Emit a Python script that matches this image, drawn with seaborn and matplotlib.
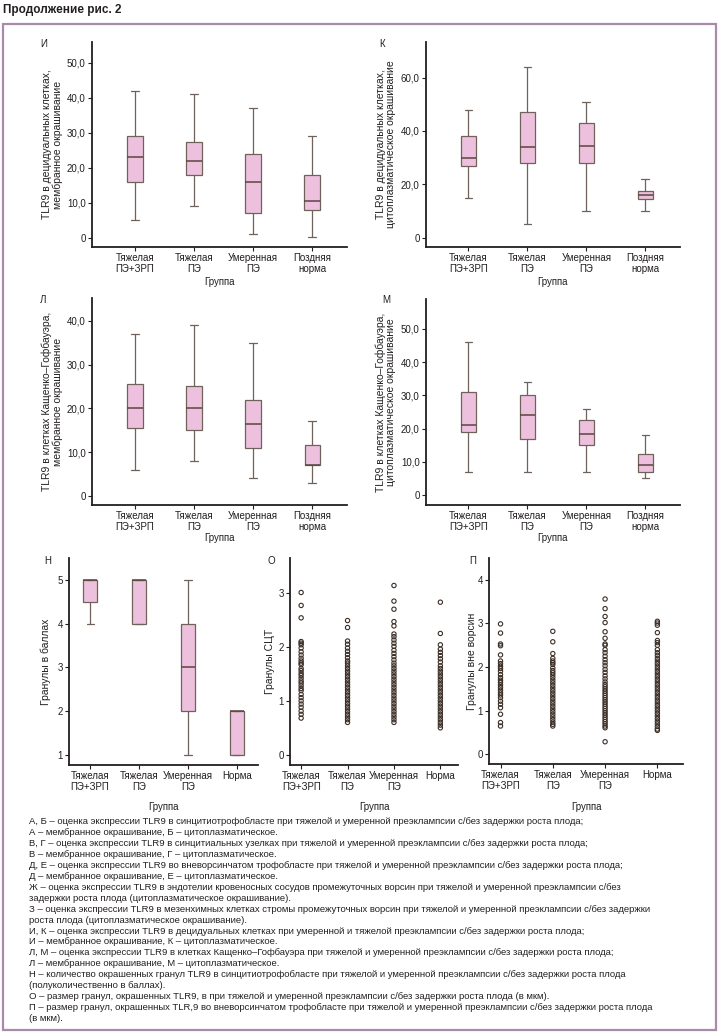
import pandas as pd
import seaborn as sns
import matplotlib.pyplot as plt
from matplotlib.patches import Rectangle

# Groups on the x axis
groups_late = ["Тяжелая\nПЭ+ЗРП", "Тяжелая\nПЭ", "Умеренная\nПЭ", "Поздняя\nнорма"]
groups_norm = ["Тяжелая\nПЭ+ЗРП", "Тяжелая\nПЭ", "Умеренная\nПЭ", "Норма"]

# Box panels: min, q1, median, q3, max
decid_membr = [[5, 16, 23, 29, 42], [9, 18, 22, 27.5, 41], [1, 7, 16, 24, 37], [0.2, 8, 10.5, 18, 29]]
decid_cyto = [[15, 27, 30, 38, 48], [5, 28, 34, 47, 64], [10, 28, 34.5, 43, 51], [10, 14.5, 16, 17.5, 22]]
hofb_membr = [[6, 15.5, 20, 25.5, 37], [8, 15, 20, 25, 39], [4, 11, 16.5, 22, 35], [3, 7, 7, 11.5, 17]]
hofb_cyto = [[7, 19, 21, 31, 46], [7, 17, 24, 30, 34], [7, 15, 18.5, 22.5, 26], [5, 7, 9, 12.5, 18]]
granules_score = [[4, 4.5, 5, 5, 5], [4, 4, 5, 5, 5], [1, 2, 3, 4, 5], [1, 1, 2, 2, 2]]

# Dot panels: granule sizes (mkm)
sct_sizes = [
    [3.01, 2.77, 2.54, 2.10, 2.07, 2.04, 1.98, 1.91, 1.85, 1.79, 1.74, 1.70, 1.67, 1.60, 1.56,
     1.51, 1.47, 1.42, 1.37, 1.33, 1.28, 1.23, 1.19, 1.12, 1.06, 1.00, 0.94, 0.88, 0.81, 0.75, 0.68],
    [2.49, 2.36, 2.11, 2.05, 1.98, 1.92, 1.86, 1.80, 1.74, 1.70, 1.65, 1.60, 1.55, 1.50, 1.45,
     1.40, 1.35, 1.30, 1.25, 1.20, 1.15, 1.10, 1.05, 1.00, 0.95, 0.90, 0.85, 0.80, 0.75, 0.70, 0.65, 0.60],
    [3.14, 2.85, 2.70, 2.47, 2.39, 2.24, 2.19, 2.13, 2.07, 2.01, 1.94, 1.88, 1.82, 1.76, 1.70,
     1.65, 1.60, 1.55, 1.50, 1.45, 1.40, 1.35, 1.30, 1.25, 1.20, 1.15, 1.10, 1.05, 1.00, 0.95,
     0.90, 0.85, 0.80, 0.75, 0.70, 0.65, 0.60],
    [2.83, 2.25, 2.04, 1.96, 1.90, 1.84, 1.78, 1.72, 1.65, 1.60, 1.55, 1.50, 1.45, 1.40, 1.35,
     1.30, 1.25, 1.20, 1.15, 1.10, 1.05, 1.00, 0.95, 0.90, 0.85, 0.80, 0.75, 0.70, 0.65, 0.60, 0.55, 0.50],
]
evt_sizes = [
    [2.99, 2.78, 2.53, 2.49, 2.28, 2.14, 2.08, 2.02, 1.97, 1.91, 1.83, 1.76, 1.70, 1.65, 1.59,
     1.53, 1.47, 1.41, 1.36, 1.30, 1.22, 1.15, 1.07, 0.92, 0.73, 0.65],
    [2.82, 2.58, 2.31, 2.20, 2.14, 2.10, 2.06, 1.98, 1.92, 1.87, 1.82, 1.76, 1.70, 1.64, 1.58,
     1.52, 1.46, 1.40, 1.34, 1.28, 1.22, 1.16, 1.10, 1.04, 0.98, 0.92, 0.86, 0.80, 0.74, 0.69, 0.65],
    [3.56, 3.34, 3.16, 3.02, 2.81, 2.66, 2.53, 2.50, 2.40, 2.33, 2.25, 2.17, 2.10, 2.03, 1.95,
     1.88, 1.80, 1.73, 1.66, 1.60, 1.55, 1.50, 1.45, 1.40, 1.35, 1.30, 1.25, 1.20, 1.15, 1.10,
     1.05, 1.00, 0.95, 0.90, 0.85, 0.80, 0.75, 0.70, 0.65, 0.61, 0.29],
    [3.05, 3.01, 2.96, 2.79, 2.61, 2.56, 2.50, 2.40, 2.33, 2.27, 2.20, 2.14, 2.08, 2.02, 1.96,
     1.90, 1.84, 1.78, 1.72, 1.66, 1.60, 1.54, 1.48, 1.42, 1.36, 1.30, 1.24, 1.18, 1.12, 1.06,
     1.00, 0.94, 0.88, 0.82, 0.76, 0.70, 0.64, 0.58, 0.55],
]

caption = [
    "А, Б – оценка экспрессии TLR9 в синцитиотрофобласте при тяжелой и умеренной преэклампсии с/без задержки роста плода;",
    "А – мембранное окрашивание, Б – цитоплазматическое.",
    "В, Г – оценка экспрессии TLR9 в синцитиальных узелках при тяжелой и умеренной преэклампсии с/без задержки роста плода;",
    "В – мембранное окрашивание, Г – цитоплазматическое.",
    "Д, Е – оценка экспрессии TLR9 во вневорсинчатом трофобласте при тяжелой и умеренной преэклампсии с/без задержки роста плода;",
    "Д – мембранное окрашивание, Е – цитоплазматическое.",
    "Ж – оценка экспрессии TLR9 в эндотелии кровеносных сосудов промежуточных ворсин при тяжелой и умеренной преэклампсии с/без",
    "задержки роста плода (цитоплазматическое окрашивание).",
    "З – оценка экспрессии TLR9 в мезенхимных клетках стромы промежуточных ворсин при тяжелой и умеренной преэклампсии с/без задержки",
    "роста плода (цитоплазматическое окрашивание).",
    "И, К – оценка экспрессии TLR9 в децидуальных клетках при умеренной и тяжелой преэклампсии с/без задержки роста плода;",
    "И – мембранное окрашивание, К – цитоплазматическое.",
    "Л, М – оценка экспрессии TLR9 в клетках Кащенко–Гофбауэра при тяжелой и умеренной преэклампсии с/без задержки роста плода;",
    "Л – мембранное окрашивание, М – цитоплазматическое.",
    "Н – количество окрашенных гранул TLR9 в синцитиотрофобласте при тяжелой и умеренной преэклампсии с/без задержки роста плода",
    "(полуколичественно в баллах).",
    "О – размер гранул, окрашенных TLR9, в при тяжелой и умеренной преэклампсии с/без задержки роста плода (в мкм).",
    "П – размер гранул, окрашенных TLR,9 во вневорсинчатом трофобласте при тяжелой и умеренной преэклампсии с/без задержки роста плода",
    "(в мкм).",
]

sns.set_style("ticks")
plt.rcParams["font.family"] = ["Liberation Sans", "DejaVu Sans"]
NARROW = ["Liberation Sans Narrow", "Liberation Sans", "DejaVu Sans"]

INK = "#231f20"
PINK = "#edc1dd"
EDGE = "#6e625b"
MED = "#5a463f"
FRAME = "#a98aab"

W, H = 720, 1035
fig = plt.figure(figsize=(W / 100, H / 100), dpi=100)


def rect(x0, y0, x1, y1):
    return [x0 / W, 1 - y1 / H, (x1 - x0) / W, (y1 - y0) / H]


def long_df(groups, values):
    rows = [(g, v) for g, vals in zip(groups, values) for v in vals]
    return pd.DataFrame(rows, columns=["group", "value"])


def comma(v, dec=True):
    if v == 0 or not dec:
        return f"{v:g}"
    return f"{v:.1f}".replace(".", ",")


def style(ax, box, ylim, yticks, xlim, ylabel, ylab_x, letter, letter_xy, xlab_y, dec=True):
    x0, y0, x1, y1 = box
    ax.set_xlim(*xlim)
    ax.set_ylim(*ylim)
    ax.set_yticks(yticks, [comma(t, dec) for t in yticks])
    sns.despine(ax=ax)
    for s in ["left", "bottom"]:
        ax.spines[s].set_linewidth(1.3)
        ax.spines[s].set_color(INK)
    ax.tick_params(axis="both", length=3, width=0.8, color=INK, labelsize=7, labelcolor=INK, pad=1.5)
    ax.set_ylabel(ylabel, fontsize=7.5, family=NARROW, color=INK, ha="center", va="center", linespacing=1.05)
    ax.yaxis.set_label_coords((ylab_x - x0) / (x1 - x0), 0.5)
    ax.set_xlabel("Группа", fontsize=7, color=INK, va="center")
    ax.xaxis.set_label_coords(0.5, (y1 - xlab_y) / (y1 - y0))
    for lab in ax.get_xticklabels():
        lab.set_linespacing(1.1)
    fig.text(letter_xy[0] / W, 1 - letter_xy[1] / H, letter, fontsize=7, color=INK, ha="left", va="center")


def box_panel(box, groups, values, width, **kw):
    ax = fig.add_axes(rect(*box))
    df = long_df(groups, values)
    sns.boxplot(data=df, x="group", y="value", order=groups, ax=ax, color=PINK, saturation=1,
                width=width, whis=(0, 100), linecolor=EDGE, linewidth=0.9,
                medianprops={"color": MED, "linewidth": 1.1})
    style(ax, box, **kw)
    return ax


def dot_panel(box, groups, values, **kw):
    ax = fig.add_axes(rect(*box))
    df = long_df(groups, values)
    sns.stripplot(data=df, x="group", y="value", order=groups, ax=ax, jitter=False, size=3.1,
                  facecolor="none", edgecolor="#3b2e26", linewidth=0.8)
    style(ax, box, **kw)
    return ax


# frame and title
fig.patches.append(Rectangle((3 / W, 1 - 1030 / H), 713 / W, 1006 / H, transform=fig.transFigure,
                             fill=False, edgecolor=FRAME, linewidth=1.6))
fig.text(3 / W, 1 - 10 / H, "Продолжение рис. 2", fontsize=8.5, fontweight="bold", color=INK, va="center")

box_panel((92, 42, 347, 247), groups_late, decid_membr, 0.27,
          ylim=(-2.6, 56), yticks=[0, 10, 20, 30, 40, 50], xlim=(-0.73, 3.59),
          ylabel="TLR9 в децидуальных клетках,\nмембранное окрашивание", ylab_x=52.5,
          letter="И", letter_xy=(40, 44), xlab_y=282)
box_panel((426, 42, 680, 247), groups_late, decid_cyto, 0.26,
          ylim=(-3.5, 73.3), yticks=[0, 20, 40, 60], xlim=(-0.72, 3.59),
          ylabel="TLR9 в децидуальных клетках,\nцитоплазматическое окрашивание", ylab_x=386,
          letter="К", letter_xy=(379, 44), xlab_y=282)
box_panel((92, 298, 347, 505), groups_late, hofb_membr, 0.26,
          ylim=(-2.1, 45.2), yticks=[0, 10, 20, 30, 40], xlim=(-0.73, 3.59),
          ylabel="TLR9 в клетках Кащенко–Гофбауэра,\nмембранное окрашивание", ylab_x=52.5,
          letter="Л", letter_xy=(40, 300), xlab_y=538)
box_panel((426, 299, 680, 505), groups_late, hofb_cyto, 0.25,
          ylim=(-3.0, 59), yticks=[0, 10, 20, 30, 40, 50], xlim=(-0.72, 3.59),
          ylabel="TLR9 в клетках Кащенко–Гофбауэра,\nцитоплазматическое окрашивание", ylab_x=386,
          letter="М", letter_xy=(382, 300), xlab_y=538)
box_panel((69, 558, 258, 765), groups_norm, granules_score, 0.29,
          ylim=(0.77, 5.5), yticks=[1, 2, 3, 4, 5], xlim=(-0.43, 3.43),
          ylabel="Гранулы в баллах", ylab_x=46, dec=False,
          letter="Н", letter_xy=(44, 561), xlab_y=807)
dot_panel((290, 558, 458, 765), groups_norm, sct_sizes,
          ylim=(-0.19, 3.65), yticks=[0, 1, 2, 3], xlim=(-0.24, 3.38),
          ylabel="Гранулы СЦТ", ylab_x=270, dec=False,
          letter="О", letter_xy=(268, 561), xlab_y=807)
dot_panel((489, 558, 683, 764), groups_norm, evt_sizes,
          ylim=(-0.22, 4.5), yticks=[0, 1, 2, 3, 4], xlim=(-0.22, 3.49),
          ylabel="Гранулы вне ворсин", ylab_x=472, dec=False,
          letter="П", letter_xy=(469, 561), xlab_y=807)

# caption block
for i, line in enumerate(caption):
    fig.text(29 / W, 1 - (822 + i * 10.9) / H, line, fontsize=6.8, family=NARROW, color=INK, va="center")

fig.savefig("out.png", dpi=100, facecolor="white")
